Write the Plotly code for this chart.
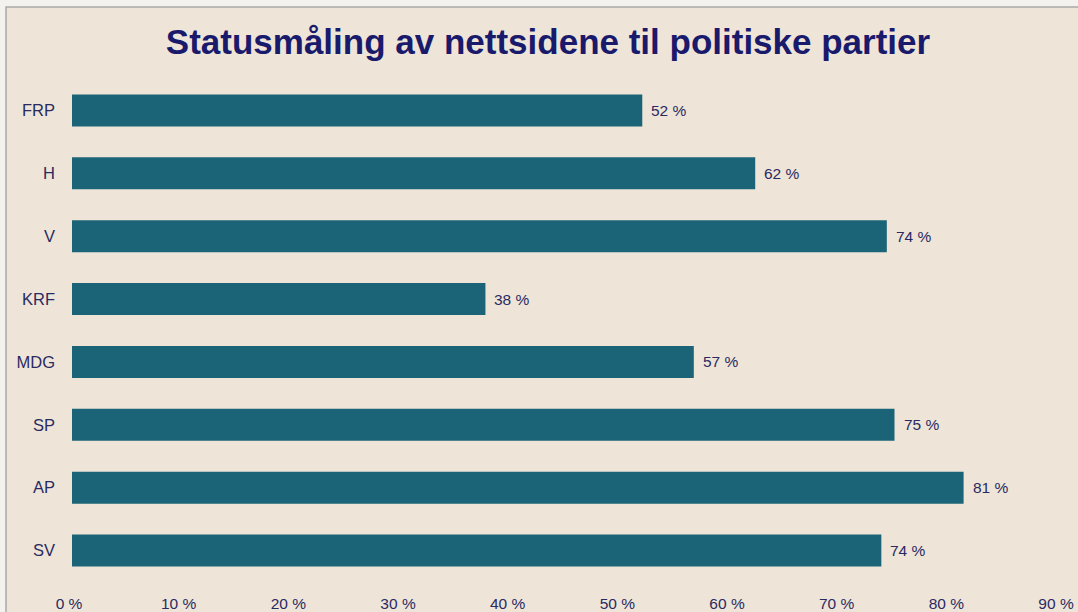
import plotly.graph_objects as go

categories = ["FRP", "H", "V", "KRF", "MDG", "SP", "AP", "SV"]
values = [52.0, 62.3, 74.3, 37.7, 56.7, 75.0, 81.3, 73.8]
x_ticks = [0, 10, 20, 30, 40, 50, 60, 70, 80, 90]
x_tick_labels = [f"{t} %" for t in x_ticks]
title = "Statusmåling av nettsidene til politiske partier"

bar_color = "#1B6478"
bg = "#EEE5D8"
text_color = "#2A2A62"
font = "Liberation Sans, Arial, sans-serif"

W, H = 1078, 612
L, R, T, B = 72, 19, 79, 30
pw, ph = W - L - R, H - T - B

fig = go.Figure(go.Bar(
    x=values,
    y=categories,
    orientation="h",
    marker=dict(color=bar_color, line=dict(width=0)),
    width=0.51,
    hoverinfo="x+y",
))

annotations = [
    dict(x=v, y=c, xref="x", yref="y", text=f"{round(v)} %", showarrow=False,
         xanchor="left", yanchor="middle", xshift=7,
         font=dict(family=font, size=15.5, color=text_color))
    for c, v in zip(categories, values)
]

fig.update_layout(
    width=W, height=H,
    paper_bgcolor="#F4F2EE",
    plot_bgcolor="rgba(0,0,0,0)",
    margin=dict(l=L, r=R, t=T, b=B, autoexpand=False),
    showlegend=False,
    annotations=annotations,
    title=dict(text=f"<b>{title}</b>", x=548 / W, xanchor="center", y=1 - 42 / H, yanchor="middle",
               font=dict(family=font, size=35, color="#1A1A6C")),
    shapes=[dict(type="rect", xref="paper", yref="paper", layer="below",
                 x0=-(L - 6) / pw, x1=(W - L + 20) / pw, y0=-(B + 20) / ph, y1=1 + (T - 7) / ph,
                 fillcolor=bg, line=dict(color="#A9A9A9", width=1.5))],
    xaxis=dict(range=[0, 90], tickvals=x_ticks, ticktext=x_tick_labels, automargin=False,
               showgrid=False, zeroline=False, showline=False, ticks="",
               tickfont=dict(family=font, size=15.5, color=text_color),
               ticklabelstandoff=10, ticklabelshift=-3),
    yaxis=dict(categoryorder="array", categoryarray=categories[::-1], automargin=False,
               showgrid=False, zeroline=False, showline=False, ticks="",
               tickfont=dict(family=font, size=16.5, color=text_color),
               ticklabelstandoff=16),
)

fig.write_html("out.html", config={"displayModeBar": False},
               post_script="document.body.style.margin='0';document.body.style.overflow='hidden';")
